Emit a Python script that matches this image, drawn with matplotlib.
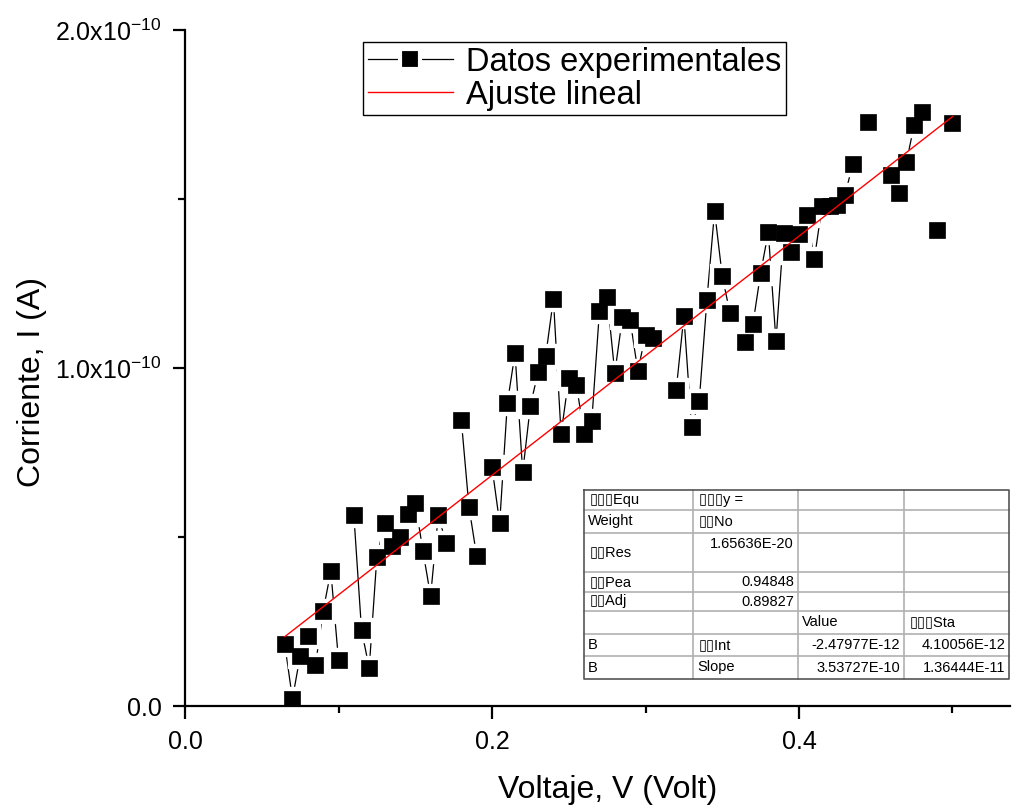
import numpy as np
import matplotlib
matplotlib.use("Agg")
import matplotlib.pyplot as plt
from matplotlib.lines import Line2D

plt.rcParams['font.family'] = ['Liberation Sans', 'DejaVu Sans']
plt.rcParams['mathtext.fontset'] = 'custom'
plt.rcParams['mathtext.rm'] = 'Liberation Sans'

nan = float('nan')
voltage = [0.065, 0.070, 0.075, 0.080, 0.085, 0.090, 0.095, 0.100, 0.105, 0.110,
           0.115, 0.120, 0.125, 0.130, 0.135, 0.140, 0.145, 0.150, 0.155, 0.160,
           0.165, 0.170, 0.175, 0.180, 0.185, 0.190, 0.195, 0.200, 0.205, 0.210,
           0.215, 0.220, 0.225, 0.230, 0.235, 0.240, 0.245, 0.250, 0.255, 0.260,
           0.265, 0.270, 0.275, 0.280, 0.285, 0.290, 0.295, 0.300, 0.305, 0.310,
           0.315, 0.320, 0.325, 0.330, 0.335, 0.340, 0.345, 0.350, 0.355, 0.360,
           0.365, 0.370, 0.375, 0.380, 0.385, 0.390, 0.395, 0.400, 0.405, 0.410,
           0.415, 0.420, 0.425, 0.430, 0.435, 0.440, 0.445, 0.450, 0.455, 0.460,
           0.465, 0.470, 0.475, 0.480, 0.485, 0.490, 0.495, 0.500]
current_e10 = [0.183, 0.021, 0.148, 0.207, 0.121, 0.281, 0.399, 0.136, nan, 0.565,
               0.225, 0.112, 0.441, 0.541, 0.473, 0.500, 0.568, 0.601, 0.459, 0.325,
               0.565, 0.482, nan, 0.846, 0.589, 0.444, nan, 0.707, 0.541, 0.896,
               1.044, 0.692, 0.888, 0.988, 1.036, 1.204, 0.805, 0.970, 0.950, 0.805,
               0.843, 1.169, 1.210, 0.985, 1.151, 1.142, 0.991, 1.098, 1.089, nan,
               nan, 0.935, 1.154, 0.825, 0.902, 1.201, 1.464, 1.272, 1.163, nan,
               1.077, 1.130, 1.281, 1.402, 1.080, 1.399, 1.343, 1.396, 1.453, 1.322,
               1.479, 1.479, 1.482, 1.512, 1.604, nan, 1.728, nan, nan, 1.571,
               1.518, 1.609, 1.719, 1.757, nan, 1.408, nan, 1.725]

fit_intercept = -2.47977e-12
fit_slope = 3.53727e-10
fit_range = [0.065, 0.500]

x_ticks = [0.0, 0.2, 0.4]
x_tick_labels = ['0.0', '0.2', '0.4']
y_ticks = [0.0, 1.0e-10, 2.0e-10]
y_tick_labels = ['0.0', r'1.0x10$^{\mathregular{-10}}$', r'2.0x10$^{\mathregular{-10}}$']

table_rows = [
    ['\u25af\u25af\u25afEqu', '\u25af\u25af\u25afy =', '', ''],
    ['Weight', '\u25af\u25afNo', '', ''],
    ['\u25af\u25afRes', '1.65636E-20', '', ''],
    ['\u25af\u25afPea', '0.94848', '', ''],
    ['\u25af\u25afAdj', '0.89827', '', ''],
    ['', '', 'Value', '\u25af\u25af\u25afSta'],
    ['B', '\u25af\u25afInt', '-2.47977E-12', '4.10056E-12'],
    ['B', 'Slope', '3.53727E-10', '1.36444E-11'],
]

W, H = 1017, 808
fig = plt.figure(figsize=(W / 100, H / 100), dpi=100)
ax = fig.add_axes([185 / W, 1 - 706 / H, (1010 - 185) / W, (706 - 30) / H])

x = np.array(voltage)
y = np.array(current_e10) * 1e-10

ax.plot(x, y, '-', color='black', lw=0.9, zorder=2)
ax.plot(x, y, 's', color='white', ms=17, mec='white', ls='none', zorder=3)
ax.plot(x, y, 's', color='black', ms=12, mec='black', mew=0.5, ls='none', zorder=4)

xf = np.array(fit_range)
ax.plot(xf, fit_intercept + fit_slope * xf, color='red', lw=1.0, zorder=5)

ax.set_xlim(0, (1010 - 185) / 1535)
ax.set_ylim(0, 2.0e-10)
ax.set_xticks(x_ticks)
ax.set_xticklabels(x_tick_labels)
ax.set_xticks([0.1, 0.3, 0.5], minor=True)
ax.set_yticks(y_ticks)
ax.set_yticklabels(y_tick_labels)
ax.set_yticks([0.5e-10, 1.5e-10], minor=True)

for s in ['top', 'right']:
    ax.spines[s].set_visible(False)
for s in ['left', 'bottom']:
    ax.spines[s].set_linewidth(1.6)
    ax.spines[s].set_zorder(3.5)
ax.tick_params(which='major', direction='out', length=9, width=1.6, labelsize=18, pad=8)
ax.tick_params(which='minor', direction='out', length=5, width=1.6)

ax.set_xlabel('Voltaje, V (Volt)', fontsize=23)
ax.set_ylabel('Corriente, I (A)', fontsize=23)
ax.xaxis.set_label_coords((608 - 185) / 825, -(775 - 706) / 676)
ax.yaxis.set_label_coords(-(185 - 47) / 825, (706 - 382) / 676)

h_data = Line2D([], [], color='black', lw=0.9, marker='s', ms=14, mfc='black', mec='white', mew=3)
h_fit = Line2D([], [], color='red', lw=1.0)
leg = ax.legend([h_data, h_fit], ['Datos experimentales', 'Ajuste lineal'],
                loc='upper left', bbox_to_anchor=((363 - 185) / 825, (706 - 42) / 676),
                borderaxespad=0, fontsize=23.5, frameon=True, fancybox=False,
                edgecolor='black', handlelength=2.6, handletextpad=0.4,
                borderpad=0.15, labelspacing=0.05, framealpha=1)
leg.get_frame().set_linewidth(1.0)

# statistics table (figure pixel coordinates)
def fx(px):
    return px / W

def fy(py):
    return 1 - py / H

cols = [584, 693, 798, 904, 1009]
rows = [490, 510, 533, 572, 592, 611, 634, 656, 679]
gray = '#b0b0b0'
for c in cols[1:-1]:
    fig.add_artist(Line2D([fx(c), fx(c)], [fy(rows[0]), fy(rows[-1])], color=gray, lw=1.2))
for r in rows[1:-1]:
    fig.add_artist(Line2D([fx(cols[0]), fx(cols[-1])], [fy(r), fy(r)], color=gray, lw=1.2))
fig.add_artist(Line2D([fx(cols[0]), fx(cols[-1]), fx(cols[-1]), fx(cols[0]), fx(cols[0])],
                      [fy(rows[0]), fy(rows[0]), fy(rows[-1]), fy(rows[-1]), fy(rows[0])],
                      color='#555555', lw=1.2))

fs = 10.5
for i, row in enumerate(table_rows):
    top, bot = rows[i], rows[i + 1]
    ymid = (top + bot) / 2
    for j, txt in enumerate(row):
        if not txt:
            continue
        is_num = txt[0].isdigit() or txt[0] == '-'
        if is_num:
            xp = cols[j + 1] - 4
            ha = 'right'
        else:
            xp = cols[j] + (4 if txt[0] != '\u25af' else 6)
            ha = 'left'
        yp = ymid
        if i == 2 and j == 1:
            yp = top + 11
        fig.text(fx(xp), fy(yp), txt, ha=ha, va='center', fontsize=fs)

fig.savefig('out.png', dpi=100)
